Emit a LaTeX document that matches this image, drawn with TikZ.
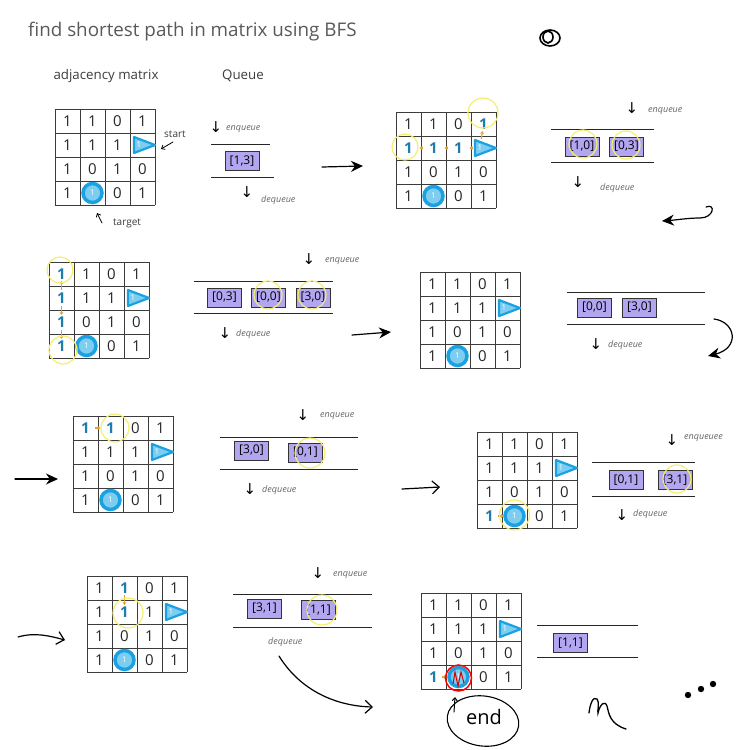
\documentclass[tikz,border=0pt]{standalone}
\usepackage{fontspec}
\setmainfont{Open Sans}
\newfontfamily\symf{DejaVu Sans}
\usetikzlibrary{arrows.meta,calc,shapes.geometric}
\definecolor{lav}{RGB}{178,166,240}
\definecolor{bl}{RGB}{27,161,226}
\definecolor{lbl}{RGB}{125,205,240}
\definecolor{yel}{RGB}{244,238,110}
\definecolor{org}{RGB}{230,160,50}
\definecolor{dblue}{RGB}{30,125,170}
\definecolor{ink}{RGB}{60,60,60}
\tikzset{
 gl/.style={draw=ink, line width=0.8pt},
 num/.style={font=\fontsize{15}{15}\selectfont, text=black!85, inner sep=0pt},
 wnum/.style={font=\fontsize{8}{8}\selectfont, text=white, inner sep=0pt},
 bnum/.style={font=\bfseries\fontsize{15}{15}\selectfont, text=dblue, fill=white, inner sep=0.5pt},
 startmark/.style={draw=bl, line width=2.2pt, fill=lbl, line join=round},
 targetmark/.style={draw=bl, line width=3.5pt, fill=lbl},
 qline/.style={draw=black!85, line width=0.9pt},
 qbox/.style={draw=black!80, fill=lav, line width=0.8pt, font=\fontsize{12}{12}\selectfont, minimum width=34pt, minimum height=19pt, inner sep=1pt},
 qlab/.style={font=\itshape\fontsize{9}{9}\selectfont, text=black!60, anchor=west, inner sep=0pt},
 sym/.style={font=\symf\fontsize{15}{15}\selectfont, inner sep=0pt},
 captext/.style={font=\fontsize{13.3}{13.3}\selectfont, text=ink, inner sep=0pt},
 yc/.style={draw=yel, line width=1.2pt},
 oarr/.style={draw=org, line width=1.2pt, -{Stealth[length=3pt,width=4pt]}, shorten <=3pt, shorten >=3pt},
 hand/.style={draw=black, line width=1.2pt, line cap=round},
 fathead/.style={-{Stealth[length=12pt,width=11pt]}},
 openhead/.style={-{Straight Barb[length=7pt,width=13pt]}},
 thinhead/.style={-{Straight Barb[length=3pt,width=5pt]}},
}
\newcommand\mgrid[3]{%
 \begin{scope}[shift={(#2,#3)}]
  \foreach \i in {0,...,4}{\draw[gl] (\i*25,0) -- (\i*25,96); \draw[gl] (0,\i*24) -- (100,\i*24);}
  \foreach \v [count=\k from 0] in {1,1,0,1,1,1,1,{},1,0,1,0,1,{},0,1}{%
   \pgfmathtruncatemacro\rr{div(\k,4)}\pgfmathtruncatemacro\cc{mod(\k,4)}%
   \node[num] (#1-\rr\cc) at (\cc*25+12.5,\rr*24+12) {\v};}
  \draw[startmark] (79,28) -- (100,36) -- (79,44) -- cycle;
  \node[wnum] (#1-st) at (84,36) {1};
  \draw[targetmark] (37.5,84) circle (9.5);
  \node[wnum] (#1-tg) at (37.5,84) {1};
 \end{scope}}
\newcommand\bone[1]{\node[bnum] (#1b) at (#1) {1};}
\begin{document}
\begin{tikzpicture}[x=1pt,y=-1pt]
\useasboundingbox (0,0) rectangle (750,750);
\node[font=\fontsize{18.8}{18.8}\selectfont, text=black!65, anchor=west, inner sep=0pt] (title) at (28,32) {find shortest path in matrix using BFS};
\draw[line width=1.6pt] (550,38) ellipse [x radius=10, y radius=8];
\draw[line width=1.6pt] (548,37) ellipse [x radius=5, y radius=6];
\node[captext] (adjl) at (106,76) {adjacency matrix};
\node[captext] (queuel) at (243,76) {Queue};

% ---------- panel 1
\mgrid{pa}{55}{109}
\node[captext, font=\fontsize{10}{10}\selectfont, anchor=west] (startl) at (164,134) {start};
\coordinate (sa1) at (173,142); \coordinate (sa2) at (161,149);
\draw[hand, line width=0.8pt, thinhead] (sa1) -- (sa2);
\node[captext, font=\fontsize{10}{10}\selectfont, anchor=west] (targl) at (113,223) {target};
\coordinate (ta1) at (102,223); \coordinate (ta2) at (97,213);
\draw[hand, line width=0.8pt, thinhead] (ta1) -- (ta2);
\node[sym] (pa-ea) at (216,127) {↓}; \node[qlab] (pa-e) at (226,129) {enqueue};
\draw[qline] (211,144) -- (270,144); \draw[qline] (211,177) -- (274,177);
\node[qbox] (pa-q1) at (242,161) {[1,3]};
\node[sym] (pa-da) at (247,192) {↓}; \node[qlab] (pa-d) at (261,200) {dequeue};
\coordinate (a1s) at (322,167); \coordinate (a1e) at (363,166);
\draw[hand, fathead] (a1s) -- (a1e);

% ---------- panel 2
\mgrid{pb}{396}{112}
\bone{pb-10}\bone{pb-11}\bone{pb-12}\bone{pb-03}
\draw[oarr, shorten <=5pt, shorten >=6pt] (pb-st) -- (pb-12b);
\draw[oarr, shorten <=6pt, shorten >=6pt] (pb-12b) -- (pb-11b);
\draw[oarr, shorten <=6pt, shorten >=6pt] (pb-11b) -- (pb-10b);
\draw[oarr, shorten <=6pt, shorten >=1pt] (pb-st) -- (pb-03b);
\draw[yc] (483,113) circle (15); \draw[yc] (405,147) circle (13);
\node[sym] (pb-ea) at (632,108) {↓}; \node[qlab] (pb-e) at (648,111) {enqueue};
\draw[qline] (551,129) -- (654,129); \draw[qline] (551,162) -- (654,162);
\node[qbox] (pb-q1) at (582,146.5) {[1,0]};
\node[qbox] (pb-q2) at (626.5,146.5) {[0,3]};
\draw[yc] (583,144) circle (14); \draw[yc] (626,145) circle (14);
\node[sym] (pb-da) at (578,182) {↓}; \node[qlab] (pb-d) at (600,188) {dequeue};
\coordinate (c2s) at (706,207); \coordinate (c2e) at (662,221);
\draw[hand, fathead] (c2s) .. controls (716,203) and (714,218) .. (700,218) .. controls (688,218) and (676,220) .. (c2e);

% ---------- panel 3
\mgrid{pc}{49}{262}
\bone{pc-00}\bone{pc-10}\bone{pc-20}\bone{pc-30}
\draw[oarr, shorten <=2pt, shorten >=1pt] (pc-10b) -- (pc-00b);
\draw[oarr, shorten <=2pt, shorten >=1pt] (pc-10b) -- (pc-20b);
\draw[oarr, shorten <=2pt, shorten >=1pt] (pc-20b) -- (pc-30b);
\draw[yc] (60,270) circle (13); \draw[yc] (63,350) circle (14);
\node[sym] (pc-ea) at (309,259) {↓}; \node[qlab] (pc-e) at (325,261) {enqueue};
\draw[qline] (194,281) -- (333,281); \draw[qline] (194,313) -- (333,313);
\node[qbox] (pc-q1) at (224.5,297.5) {[0,3]};
\node[qbox] (pc-q2) at (268.5,297.5) {[0,0]};
\node[qbox] (pc-q3) at (313,297.5) {[3,0]};
\draw[yc] (268,295) circle (14); \draw[yc] (312,295) circle (14);
\node[sym] (pc-da) at (225,333) {↓}; \node[qlab] (pc-d) at (236,334) {dequeue};
\coordinate (a3s) at (352,335); \coordinate (a3e) at (391,332);
\draw[hand, fathead] (a3s) -- (a3e);

% ---------- panel 4
\mgrid{pd}{420}{272}
\draw[qline] (567,292) -- (705,292); \draw[qline] (567,324) -- (705,324);
\node[qbox] (pd-q1) at (594.5,307.5) {[0,0]};
\node[qbox] (pd-q2) at (639.5,307.5) {[3,0]};
\node[sym] (pd-da) at (596,344) {↓}; \node[qlab] (pd-d) at (608,345) {dequeue};
\coordinate (c4s) at (714,319); \coordinate (c4e) at (708,356);
\draw[hand, fathead] (c4s) .. controls (736,322) and (740,348) .. (c4e);

% ---------- panel 5
\coordinate (a5s) at (15,479); \coordinate (a5e) at (58,479);
\draw[hand, fathead] (a5s) -- (a5e);
\mgrid{pe}{73}{416}
\bone{pe-00}\bone{pe-01}
\draw[oarr, shorten <=5pt, shorten >=5pt] (pe-00b) -- (pe-01b);
\draw[yc] (115,428) circle (14);
\node[sym] (pe-ea) at (303,415) {↓}; \node[qlab] (pe-e) at (320,416) {enqueue};
\draw[qline] (220,437) -- (358,437); \draw[qline] (220,469) -- (358,469);
\node[qbox] (pe-q1) at (251.5,450.5) {[3,0]};
\node[qbox] (pe-q2) at (305.5,452.5) {[0,1]};
\draw[yc] (310,453) circle (15);
\node[sym] (pe-da) at (250,489) {↓}; \node[qlab] (pe-d) at (262,490) {dequeue};

% ---------- panel 6
\coordinate (a6s) at (402,489); \coordinate (a6e) at (440,487);
\draw[hand, openhead] (a6s) -- (a6e);
\mgrid{pf}{477}{432}
\bone{pf-30}
\draw[oarr, shorten <=4pt, shorten >=8pt] (pf-30b) -- (pf-tg);
\draw[yc] (514.5,515) circle (15);
\node[sym] (pf-ea) at (672,440) {↓}; \node[qlab] (pf-e) at (684,438) {enqueuee};
\draw[qline] (592,462) -- (695,462); \draw[qline] (592,496) -- (695,496);
\node[qbox] (pf-q1) at (626,480) {[0,1]};
\node[qbox] (pf-q2) at (675,480) {[3,1]};
\draw[yc] (677,479) circle (14);
\node[sym] (pf-da) at (622,515) {↓}; \node[qlab] (pf-d) at (633,514) {dequeue};

% ---------- panel 7
\coordinate (a7s) at (18,637); \coordinate (a7e) at (65,640);
\draw[hand, openhead] (a7s) .. controls (35,632) and (50,636) .. (a7e);
\mgrid{pg}{87}{576}
\bone{pg-01}\bone{pg-11}
\draw[oarr, shorten <=1pt, shorten >=1pt] (pg-01b) -- (pg-11b);
\draw[yc] (128,613) circle (15);
\node[sym] (pg-ea) at (318,573) {↓}; \node[qlab] (pg-e) at (333,575) {enqueue};
\draw[qline] (233,594) -- (372,594); \draw[qline] (233,627) -- (372,627);
\node[qbox] (pg-q1) at (264.5,608.5) {[3,1]};
\node[qbox] (pg-q2) at (318.5,610) {[1,1]};
\draw[yc] (322,610) circle (15);
\node[qlab] (pg-d) at (268,642) {dequeue};
\coordinate (a7bs) at (279,656); \coordinate (a7be) at (373,707);
\draw[hand, openhead] (a7bs) .. controls (300,690) and (335,706) .. (a7be);

% ---------- panel 8
\mgrid{ph}{421}{593}
\bone{ph-30}
\draw[oarr, shorten <=4pt, shorten >=9pt] (ph-30b) -- (ph-tg);
\draw[red, line width=1.5pt] (458.5,678) circle (13);
\draw[red!85!black, line width=1pt] (453,684) -- (455,672) -- (458,686) -- (461,672) -- (464,683);
\draw[qline] (537,625) -- (638,625); \draw[qline] (537,657) -- (638,657);
\node[qbox] (ph-q1) at (570.5,643) {[1,1]};
\node[draw=black, line width=1.1pt, ellipse, minimum width=72pt, minimum height=50pt, rotate=-8, inner sep=0pt] (endo) at (483,721) {};
\node[font=\fontsize{20}{20}\selectfont, inner sep=0pt] (endl) at (484,717) {end};
\coordinate (ea1) at (454,712); \coordinate (ea2) at (455,697);
\draw[hand, line width=1pt, thinhead] (ea1) -- (ea2);
\draw[hand, line width=1.3pt] (589,713) .. controls (590,704) and (593,696) .. (597,699) .. controls (600,702) and (597,712) .. (598,713) .. controls (600,704) and (605,700) .. (607,706) .. controls (609,714) and (610,724) .. (626,729);
\fill (688,695) circle (3.2); \fill (701,689) circle (3.2); \fill (713,684) circle (3.2);
\end{tikzpicture}
\end{document}
